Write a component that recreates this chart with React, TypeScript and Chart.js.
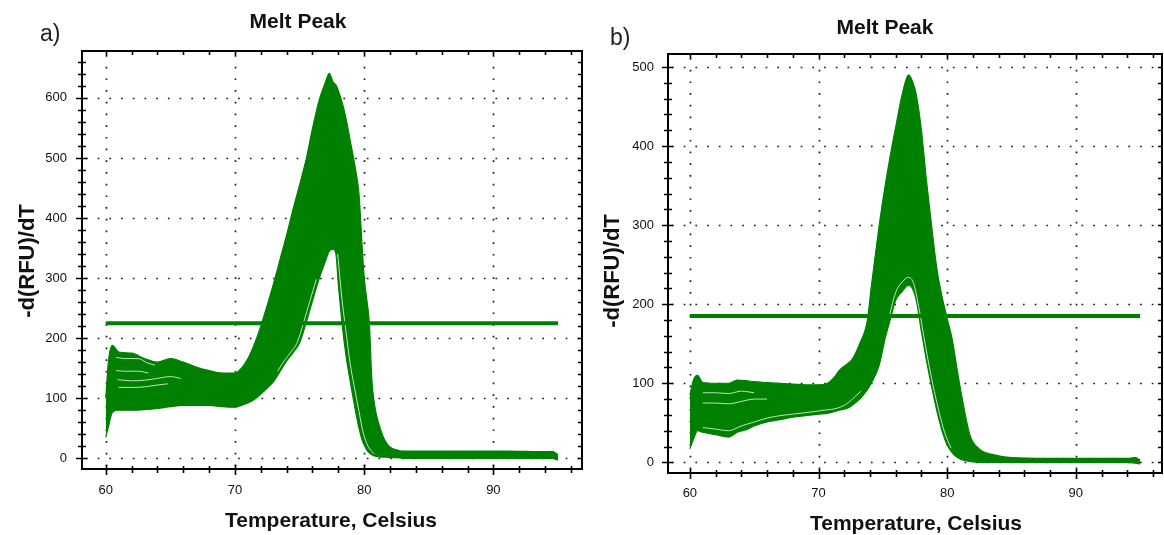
import React, { useEffect, useRef } from 'react';
import { Chart, registerables } from 'chart.js';

Chart.register(...registerables);

// ---------------- data ----------------
const X_TICKS = [60, 70, 80, 90];
const Y_TICKS_A = [0, 100, 200, 300, 400, 500, 600];
const Y_TICKS_B = [0, 100, 200, 300, 400, 500];

// Panel a: envelope of all melt-peak curves (upper / lower bound at each temperature)
const TEMPS_A = [60, 60.2, 60.5, 61, 62, 63, 64, 65, 66, 67, 68, 69, 70, 70.5, 71, 71.5, 72, 72.5, 73, 73.5, 74, 74.5, 75, 75.5, 76, 76.5, 77, 77.3, 77.6, 77.8, 78, 78.3, 78.6, 79, 79.3, 79.6, 79.85, 80, 80.2, 80.4, 80.6, 80.8, 81, 81.3, 81.6, 82, 82.5, 83, 85, 88, 91, 94, 94.6, 95];
const UPPER_A = [100, 160, 188, 177, 175, 166, 160, 166, 160, 152, 146, 142, 142, 150, 166, 190, 220, 255, 292, 332, 372, 415, 455, 497, 549, 595, 626, 641, 626, 622, 612, 592, 565, 520, 485, 440, 350, 302, 265, 225, 130, 90, 68, 46, 30, 19, 14, 12, 12, 12, 12, 11, 11, 6];
const LOWER_A = [35, 52, 76, 80, 80, 81, 83, 86, 88, 88, 88, 86, 85, 88, 92, 98, 107, 117, 128, 145, 162, 176, 192, 225, 262, 298, 328, 345, 348, 342, 290, 222, 170, 118, 82, 50, 30, 22, 14, 9, 6, 4, 3, 2, 2, 1, 1, 0, 0, 0, 0, 0, 0, -3];
// visible gaps between individual curves inside the band
const GAP_A1 = [[60.8, 168], [61.5, 166], [62.5, 166], [63.2, 159], [63.8, 155]];
const GAP_A2 = [[60.8, 146], [61.5, 145], [62.5, 145], [63.3, 142]];
const GAP_A3 = [[60.9, 131], [62, 129], [63, 130], [64, 133], [65, 136], [65.8, 133]];
const GAP_A4 = [[61, 118], [62, 118], [63, 119], [64, 122], [64.8, 124]];
const GAP_A5 = [[73.3, 145], [73.8, 162], [74.3, 176], [74.8, 192], [75.3, 225], [75.8, 262], [76.3, 298]];
const GAP_A6 = [[77.95, 340], [78.3, 262], [78.6, 210], [78.9, 160], [79.3, 112], [79.6, 78], [79.9, 45], [80.3, 20], [80.8, 7]];
const THRESHOLD_A = 225;

// Panel b
const TEMPS_B = [60, 60.3, 60.6, 61, 62, 63, 63.7, 64.5, 65, 66, 67, 68, 69, 70, 70.7, 71.2, 71.6, 72.2, 72.6, 73.2, 73.8, 74.1, 74.7, 75.2, 75.6, 76, 76.5, 77, 77.3, 77.6, 78, 78.4, 78.8, 79.2, 79.6, 80, 80.4, 80.8, 81.2, 81.8, 82.5, 83.5, 85, 88, 91, 94, 94.6, 95];
const UPPER_B = [85, 105, 110, 101, 100, 100, 104, 103, 102, 101, 100, 99, 98, 98, 100, 107, 116, 124, 130, 150, 180, 222, 298, 352, 390, 424, 465, 490, 482, 465, 420, 355, 298, 245, 210, 182, 155, 115, 78, 33, 17, 10, 6, 5, 5, 5, 6, 3];
const LOWER_B = [17, 30, 40, 38, 35, 32, 38, 42, 46, 51, 54, 57, 59, 61, 62, 64, 66, 68, 72, 80, 92, 100, 122, 158, 182, 205, 216, 224, 220, 205, 165, 128, 95, 65, 40, 22, 12, 6, 3, 1, 0, 0, 0, 0, 0, 0, -1, -2];
const GAP_B1 = [[61, 88], [62, 88], [63, 87], [64, 90], [65, 88]];
const GAP_B2 = [[61, 75], [62, 75], [63, 74], [64, 77], [65, 80], [66, 80]];
const GAP_B3 = [[61, 44], [62, 42], [63, 40], [64, 46], [65, 51], [66, 56], [67, 59], [68, 61], [70, 65], [72, 72], [73.3, 90]];
const GAP_B4 = [[75.5, 185], [76, 215], [76.5, 228], [77, 234], [77.4, 226], [77.8, 196], [78.2, 158], [78.6, 122], [79, 90], [79.4, 62], [79.8, 38], [80.3, 18]];
const THRESHOLD_B = 185;

const THRESHOLD_SPAN = [60, 95];

// ---------------- styling ----------------
const GREEN = '#008000';
const FONT = '"Liberation Sans", Arial, Helvetica, sans-serif';
const TEXT = '#111111';

type Spec = {
  left: number;
  width: number;
  temps: number[];
  upper: number[];
  lower: number[];
  gaps: number[][][];
  threshold: number;
  yTicks: number[];
  xMin: number;
  xMax: number;
  yMin: number;
  yMax: number;
  yAxisWidth: number;
  xAxisHeight: number;
  padTop: number;
  padRight: number;
  yLabelPad: number;
  xLabelPad: number;
  label: string;
  labelX: number;
  labelY: number;
  titleX: number;
  titleY: number;
  yTitleX: number;
  yTitleY: number;
  xTitleX: number;
  xTitleY: number;
};

const SPEC_A: Spec = {
  left: 0, width: 590,
  temps: TEMPS_A, upper: UPPER_A, lower: LOWER_A,
  gaps: [GAP_A1, GAP_A2, GAP_A3, GAP_A4, GAP_A5, GAP_A6],
  threshold: THRESHOLD_A, yTicks: Y_TICKS_A,
  xMin: 58.16, xMax: 96.86, yMin: -17.8, yMax: 678,
  yAxisWidth: 82, xAxisHeight: 66, padTop: 51, padRight: 8,
  yLabelPad: 15, xLabelPad: 14,
  label: 'a)', labelX: 40, labelY: 35,
  titleX: 298, titleY: 22,
  yTitleX: 28, yTitleY: 261,
  xTitleX: 331, xTitleY: 521,
};

const SPEC_B: Spec = {
  left: 590, width: 574,
  temps: TEMPS_B, upper: UPPER_B, lower: LOWER_B,
  gaps: [GAP_B1, GAP_B2, GAP_B3, GAP_B4],
  threshold: THRESHOLD_B, yTicks: Y_TICKS_B,
  xMin: 58.3, xMax: 96.7, yMin: -13.5, yMax: 516.5,
  yAxisWidth: 78, xAxisHeight: 62, padTop: 54, padRight: 2,
  yLabelPad: 14, xLabelPad: 13,
  label: 'b)', labelX: 20, labelY: 39,
  titleX: 295, titleY: 28,
  yTitleX: 23, yTitleY: 271,
  xTitleX: 326, xTitleY: 524,
};

function makePlugin(s: Spec) {
  return {
    id: 'frameGrid',
    beforeDatasetsDraw(chart: any) {
      const { ctx, chartArea: a, scales } = chart;
      ctx.save();
      ctx.strokeStyle = '#1a1a1a';
      ctx.lineWidth = 1.7;
      ctx.setLineDash([1.7, 10]);
      for (const v of X_TICKS) {
        const px = Math.round(scales.x.getPixelForValue(v)) + 0.5;
        ctx.beginPath();
        ctx.moveTo(px, a.top + 4);
        ctx.lineTo(px, a.bottom);
        ctx.stroke();
      }
      for (const v of s.yTicks) {
        const py = Math.round(scales.y.getPixelForValue(v)) + 0.5;
        ctx.beginPath();
        ctx.moveTo(a.left + 4, py);
        ctx.lineTo(a.right, py);
        ctx.stroke();
      }
      ctx.restore();
    },
    afterDraw(chart: any) {
      const { ctx, chartArea: a, scales } = chart;
      ctx.save();
      ctx.strokeStyle = '#000';
      ctx.lineWidth = 2;
      ctx.strokeRect(a.left, a.top, a.right - a.left, a.bottom - a.top);
      ctx.lineWidth = 1.6;
      // x ticks (every 2 degrees, longer at majors)
      for (let v = Math.ceil(s.xMin / 2) * 2; v <= s.xMax; v += 2) {
        const major = v % 10 === 0;
        const px = Math.round(scales.x.getPixelForValue(v)) + 0.5;
        ctx.beginPath();
        ctx.moveTo(px, a.bottom - (major ? 4 : 3));
        ctx.lineTo(px, a.bottom + (major ? 6 : 4));
        ctx.moveTo(px, a.top);
        ctx.lineTo(px, a.top + 4);
        ctx.stroke();
      }
      // y ticks (every 20, longer at majors)
      for (let v = Math.ceil(s.yMin / 20) * 20; v <= s.yMax; v += 20) {
        const major = v % 100 === 0;
        const py = Math.round(scales.y.getPixelForValue(v)) + 0.5;
        ctx.beginPath();
        ctx.moveTo(a.left - (major ? 6 : 4), py);
        ctx.lineTo(a.left + (major ? 5 : 4), py);
        ctx.moveTo(a.right, py);
        ctx.lineTo(a.right - 4, py);
        ctx.stroke();
      }
      // texts
      ctx.fillStyle = TEXT;
      ctx.textBaseline = 'middle';
      ctx.textAlign = 'center';
      ctx.font = `bold 21px ${FONT}`;
      ctx.fillText('Melt Peak', s.titleX, s.titleY);
      ctx.fillText('Temperature, Celsius', s.xTitleX, s.xTitleY);
      ctx.save();
      ctx.translate(s.yTitleX, s.yTitleY);
      ctx.rotate(-Math.PI / 2);
      ctx.font = `bold 22px ${FONT}`;
      ctx.fillText('-d(RFU)/dT', 0, 0);
      ctx.restore();
      ctx.textAlign = 'left';
      ctx.font = `23px ${FONT}`;
      ctx.fillStyle = '#222';
      ctx.fillText(s.label, s.labelX, s.labelY);
      ctx.restore();
    },
  };
}

function toPoints(xs: number[], ys: number[]) {
  return xs.map((x, i) => ({ x, y: ys[i] }));
}

function buildConfig(s: Spec): any {
  const gapSets = s.gaps.map((g) => ({
    type: 'line',
    data: g.map((p) => ({ x: p[0], y: p[1] })),
    borderColor: 'rgba(255,255,255,0.75)',
    borderWidth: 1,
    pointRadius: 0,
    fill: false,
    cubicInterpolationMode: 'monotone',
  }));
  const datasets: any[] = [
    {
      type: 'line',
      data: THRESHOLD_SPAN.map((x) => ({ x, y: s.threshold })),
      borderColor: GREEN,
      borderWidth: 4,
      pointRadius: 0,
      fill: false,
    },
    ...gapSets,
    {
      type: 'line',
      data: toPoints(s.temps, s.upper),
      borderColor: GREEN,
      backgroundColor: GREEN,
      borderWidth: 1.2,
      pointRadius: 0,
      fill: '+1',
      cubicInterpolationMode: 'monotone',
    },
    {
      type: 'line',
      data: toPoints(s.temps, s.lower),
      borderColor: GREEN,
      borderWidth: 1.2,
      pointRadius: 0,
      fill: false,
      cubicInterpolationMode: 'monotone',
    },
  ];
  return {
    type: 'line',
    data: { datasets },
    plugins: [makePlugin(s)],
    options: {
      animation: false,
      responsive: false,
      devicePixelRatio: 1,
      parsing: false,
      normalized: true,
      layout: { padding: { top: s.padTop, right: s.padRight, left: 0, bottom: 0 } },
      plugins: { legend: { display: false }, title: { display: false }, tooltip: { enabled: false } },
      scales: {
        x: {
          type: 'linear',
          min: s.xMin,
          max: s.xMax,
          grid: { display: false, drawTicks: false },
          border: { display: false },
          afterBuildTicks: (sc: any) => { sc.ticks = X_TICKS.map((v) => ({ value: v })); },
          afterFit: (sc: any) => { sc.height = s.xAxisHeight; },
          ticks: {
            autoSkip: false,
            maxRotation: 0,
            padding: s.xLabelPad,
            color: TEXT,
            font: { family: FONT, size: 13 },
            callback: (v: any) => String(v),
          },
        },
        y: {
          type: 'linear',
          min: s.yMin,
          max: s.yMax,
          grid: { display: false, drawTicks: false },
          border: { display: false },
          afterBuildTicks: (sc: any) => { sc.ticks = s.yTicks.map((v) => ({ value: v })); },
          afterFit: (sc: any) => { sc.width = s.yAxisWidth; },
          ticks: {
            autoSkip: false,
            padding: s.yLabelPad,
            color: TEXT,
            font: { family: FONT, size: 13 },
            callback: (v: any) => String(v),
          },
        },
      },
    },
  };
}

function Panel({ spec }: { spec: Spec }) {
  const ref = useRef<HTMLCanvasElement>(null);
  useEffect(() => {
    const chart = new Chart(ref.current as HTMLCanvasElement, buildConfig(spec));
    return () => chart.destroy();
  }, [spec]);
  return (
    <canvas
      ref={ref}
      width={spec.width}
      height={535}
      style={{ position: 'absolute', left: spec.left, top: 0, width: spec.width, height: 535 }}
    />
  );
}

export default function App() {
  return (
    <div style={{ position: 'fixed', left: 0, top: 0, width: 1164, height: 535, background: '#fff', overflow: 'hidden' }}>
      <Panel spec={SPEC_A} />
      <Panel spec={SPEC_B} />
    </div>
  );
}
